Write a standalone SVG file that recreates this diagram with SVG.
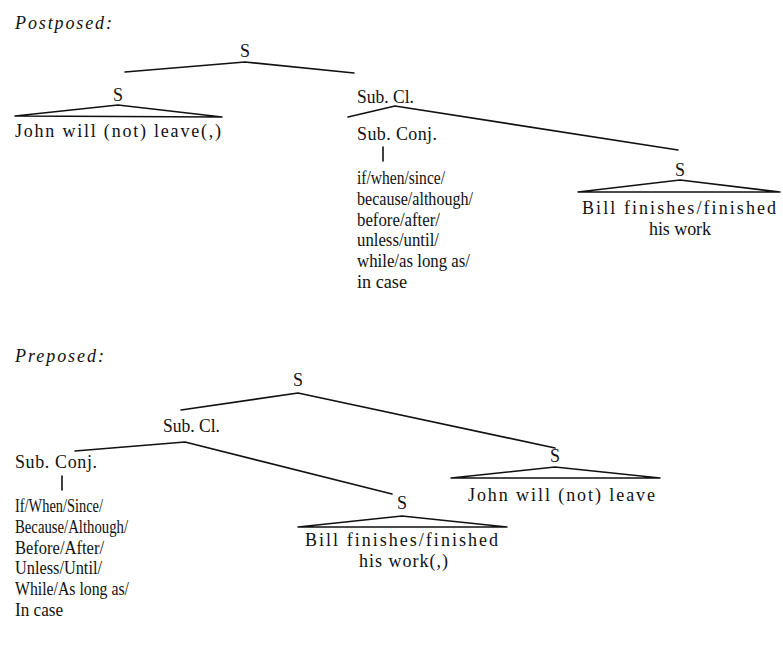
<svg xmlns="http://www.w3.org/2000/svg" width="783" height="648" viewBox="0 0 783 648">
<style>
text{font-family:"Liberation Serif","Times New Roman",serif;font-size:18px;fill:#111}
.it{font-style:italic;font-size:18px}
.m{text-anchor:middle}
.ln{fill:none;stroke:#111;stroke-width:1.6;stroke-linejoin:round;stroke-linecap:round}
</style>
<rect width="783" height="648" fill="#fff"/>
<text class="it" x="15" y="29" textLength="97" lengthAdjust="spacing">Postposed:</text>
<text class="it" x="15" y="362" textLength="89" lengthAdjust="spacing">Preposed:</text>

<g id="connectors">
<polyline class="ln" points="125,72 245,62 354,73"/>
<polygon class="ln" points="15,116 118,105 222,117"/>
<polyline class="ln" points="348,117 395,106 678,150"/>
<line class="ln" x1="383" y1="147" x2="383" y2="161"/>
<polygon class="ln" points="578,192 680,180 780,192"/>
<polyline class="ln" points="181,410 298,393 555,448"/>
<polyline class="ln" points="75,451 185,442 392,494"/>
<line class="ln" x1="62" y1="476" x2="62" y2="490"/>
<polygon class="ln" points="298,527 402,516 507,527"/>
<polygon class="ln" points="451,478 555,467 660,478"/>
</g>

<g id="top-S"><text class="m" x="245" y="57">S</text></g>
<g id="top-S-left"><text class="m" x="118" y="101">S</text>
<text x="15" y="137" textLength="206" lengthAdjust="spacing">John will (not) leave(,)</text></g>
<g id="top-subcl"><text x="357" y="103" textLength="57" lengthAdjust="spacingAndGlyphs">Sub. Cl.</text></g>
<g id="top-subconj"><text x="357" y="140" textLength="80" lengthAdjust="spacing">Sub. Conj.</text>
<text x="357" y="184" textLength="88" lengthAdjust="spacingAndGlyphs">if/when/since/</text>
<text x="357" y="205" textLength="116" lengthAdjust="spacingAndGlyphs">because/although/</text>
<text x="357" y="226" textLength="83" lengthAdjust="spacingAndGlyphs">before/after/</text>
<text x="357" y="246" textLength="82" lengthAdjust="spacingAndGlyphs">unless/until/</text>
<text x="357" y="267" textLength="113" lengthAdjust="spacingAndGlyphs">while/as long as/</text>
<text x="357" y="288" textLength="50" lengthAdjust="spacingAndGlyphs">in case</text></g>
<g id="top-S-right"><text class="m" x="680" y="176">S</text>
<text x="582" y="214" textLength="194" lengthAdjust="spacing">Bill finishes/finished</text>
<text x="649" y="235" textLength="62" lengthAdjust="spacing">his work</text></g>

<g id="bot-S"><text class="m" x="298" y="386">S</text></g>
<g id="bot-subcl"><text x="163" y="432" textLength="57" lengthAdjust="spacingAndGlyphs">Sub. Cl.</text></g>
<g id="bot-subconj"><text x="15" y="468" textLength="82" lengthAdjust="spacing">Sub. Conj.</text>
<text x="15" y="512" textLength="88" lengthAdjust="spacingAndGlyphs">If/When/Since/</text>
<text x="15" y="533" textLength="113" lengthAdjust="spacingAndGlyphs">Because/Although/</text>
<text x="15" y="554" textLength="89" lengthAdjust="spacingAndGlyphs">Before/After/</text>
<text x="15" y="574" textLength="87" lengthAdjust="spacingAndGlyphs">Unless/Until/</text>
<text x="15" y="595" textLength="114" lengthAdjust="spacingAndGlyphs">While/As long as/</text>
<text x="15" y="616" textLength="48" lengthAdjust="spacingAndGlyphs">In case</text></g>
<g id="bot-S-bill"><text class="m" x="402" y="509">S</text>
<text x="305" y="546" textLength="193" lengthAdjust="spacing">Bill finishes/finished</text>
<text x="359" y="567" textLength="89" lengthAdjust="spacing">his work(,)</text></g>
<g id="bot-S-john"><text class="m" x="555" y="462">S</text>
<text x="468" y="501" textLength="187" lengthAdjust="spacing">John will (not) leave</text></g>
</svg>
